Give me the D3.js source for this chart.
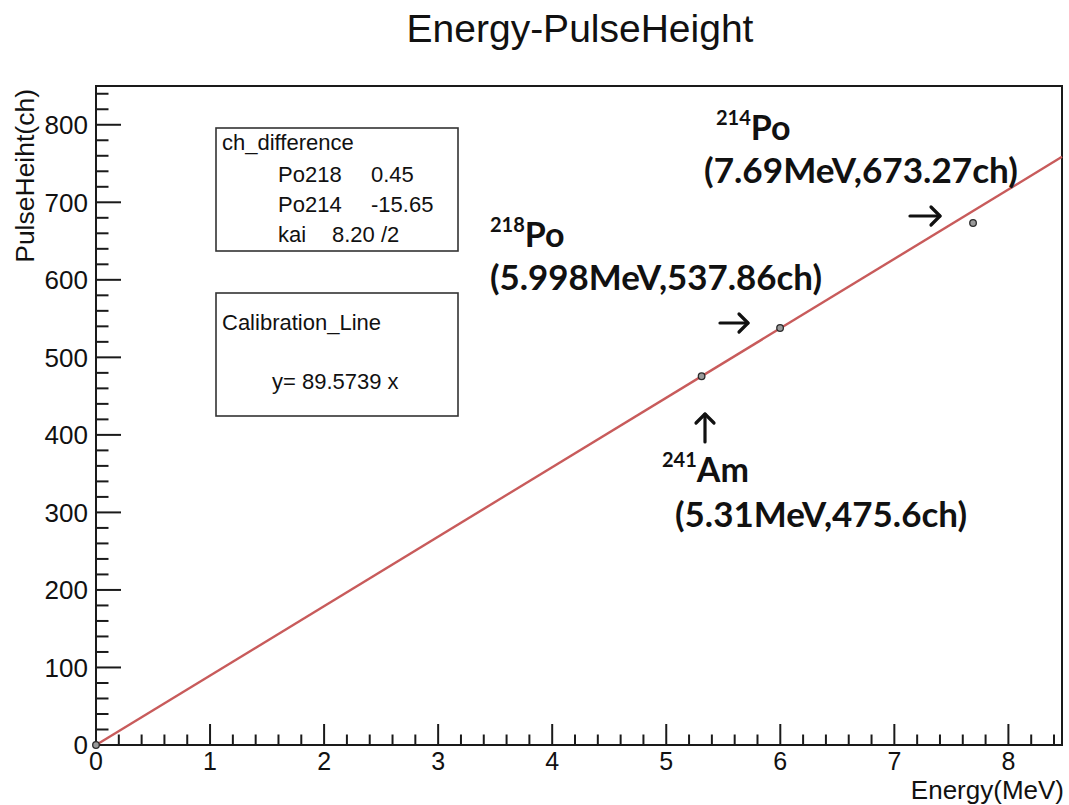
<!DOCTYPE html>
<html>
<head>
<meta charset="utf-8">
<script src="https://cdn.jsdelivr.net/npm/d3@7"></script>
<style>
  html, body { margin: 0; padding: 0; background: #fff; }
  svg { display: block; }
  text { font-family: "Liberation Sans", Arial, sans-serif; fill: #111; }
  .anno { font-family: Lato, "Open Sans", sans-serif; font-weight: 700; }
</style>
</head>
<body>
<svg id="chart" width="1069" height="805"></svg>
<script>
// Measured peak positions: energy (MeV) and pulse height (channel)
const peakNames    = ["origin", "241Am", "218Po", "214Po"];
const peakEnergy   = [0, 5.31, 5.998, 7.69];
const peakChannel  = [0, 475.6, 537.86, 673.27];

// Fitted calibration line y = slope * x
const slope = 89.5739;

// Axis ranges and ticks
const xDomain = [0, 8.47];
const yDomain = [0, 850];
const xMajorTicks = [0, 1, 2, 3, 4, 5, 6, 7, 8];
const yMajorTicks = [0, 100, 200, 300, 400, 500, 600, 700, 800];

// Peak annotations (mass number, element, coordinate text)
const annoMass  = ["241", "218", "214"];
const annoElem  = ["Am", "Po", "Po"];
const annoCoord = ["(5.31MeV,475.6ch)", "(5.998MeV,537.86ch)", "(7.69MeV,673.27ch)"];

// Stat box contents
const diffTitle  = "ch_difference";
const diffNames  = ["Po218", "Po214"];
const diffValues = ["0.45", "-15.65"];
const kaiText    = ["kai", "8.20 /2"];
const fitTitle   = "Calibration_Line";

const svg = d3.select("#chart");
const L = 96, R = 1062, T = 86, B = 745;

const x = d3.scaleLinear().domain(xDomain).range([L, R]);
const y = d3.scaleLinear().domain(yDomain).range([B, T]);

// Title
svg.append("text").attr("x", 580).attr("y", 42)
  .attr("text-anchor", "middle").style("font-size", "39px")
  .text("Energy-PulseHeight");

// Frame
svg.append("rect").attr("x", L).attr("y", T).attr("width", R - L).attr("height", B - T)
  .attr("fill", "none").attr("stroke", "#1a1a1a").attr("stroke-width", 2);

// X axis ticks (inward) and labels
const xMinor = d3.range(0, xDomain[1] + 1e-9, 0.2);
svg.append("g").selectAll("line").data(xMinor).join("line")
  .attr("x1", d => x(d)).attr("x2", d => x(d))
  .attr("y1", B).attr("y2", d => Math.abs(d - Math.round(d)) < 1e-6 ? B - 21 : B - 10.5)
  .attr("stroke", "#1a1a1a").attr("stroke-width", 2);
svg.append("g").selectAll("text").data(xMajorTicks).join("text")
  .attr("x", d => x(d)).attr("y", 770)
  .attr("text-anchor", "middle").style("font-size", "25px")
  .text(d => d);

// Y axis ticks (inward) and labels
const yMinor = d3.range(0, yDomain[1] + 1e-9, 20);
svg.append("g").selectAll("line").data(yMinor).join("line")
  .attr("y1", d => y(d)).attr("y2", d => y(d))
  .attr("x1", L).attr("x2", d => d % 100 === 0 ? L + 25 : L + 12.5)
  .attr("stroke", "#1a1a1a").attr("stroke-width", 2);
svg.append("g").selectAll("text").data(yMajorTicks).join("text")
  .attr("x", 88).attr("y", d => y(d)).attr("dy", "0.36em")
  .attr("text-anchor", "end").style("font-size", "26px")
  .text(d => d);

// Axis titles
svg.append("text").attr("x", 1064).attr("y", 799)
  .attr("text-anchor", "end").style("font-size", "26px")
  .text("Energy(MeV)");
svg.append("text").attr("transform", "translate(34,89) rotate(-90)")
  .attr("text-anchor", "end").style("font-size", "26.5px")
  .text("PulseHeiht(ch)");

// Calibration line
const line = d3.line().x(d => x(d)).y(d => y(slope * d));
svg.append("path").datum([xDomain[0], xDomain[1]])
  .attr("d", line).attr("fill", "none")
  .attr("stroke", "#c85b5b").attr("stroke-width", 2.4);

// Measured points
svg.append("g").selectAll("circle").data(peakEnergy).join("circle")
  .attr("cx", d => x(d)).attr("cy", (d, i) => y(peakChannel[i]))
  .attr("r", 3.3).attr("fill", "#9a9a9a").attr("stroke", "#2a2a2a").attr("stroke-width", 1.3);

// Stat boxes
const fs = "22px";
const box1 = svg.append("g");
box1.append("rect").attr("x", 216).attr("y", 128).attr("width", 242).attr("height", 123)
  .attr("fill", "#fff").attr("stroke", "#333").attr("stroke-width", 1.6);
box1.append("text").attr("x", 222).attr("y", 150).style("font-size", fs).text(diffTitle);
diffNames.forEach((n, i) => {
  box1.append("text").attr("x", 278).attr("y", 182 + i * 30).style("font-size", fs).text(n);
  box1.append("text").attr("x", 371).attr("y", 182 + i * 30).style("font-size", fs).text(diffValues[i]);
});
box1.append("text").attr("x", 278).attr("y", 242).style("font-size", fs).text(kaiText[0]);
box1.append("text").attr("x", 332).attr("y", 242).style("font-size", fs).text(kaiText[1]);

const box2 = svg.append("g");
box2.append("rect").attr("x", 216).attr("y", 293).attr("width", 242).attr("height", 123)
  .attr("fill", "#fff").attr("stroke", "#333").attr("stroke-width", 1.6);
box2.append("text").attr("x", 222).attr("y", 330).style("font-size", fs).text(fitTitle);
box2.append("text").attr("x", 272).attr("y", 389).style("font-size", fs)
  .text("y= " + slope + " x");

// Peak annotations: label position, coordinate text position/width, arrow geometry
const annoLayout = [
  { lx: 662, ly: 482, cx: 675, cy: 527, cw: 292, arrow: { dir: "up",    ax: 705, ay1: 442, ay2: 414 } },
  { lx: 490, ly: 247, cx: 490, cy: 290, cw: 332, arrow: { dir: "right", ay: 323, ax1: 720, ax2: 748 } },
  { lx: 716, ly: 140, cx: 704, cy: 183, cw: 314, arrow: { dir: "right", ay: 216, ax1: 910, ax2: 940 } }
];

annoLayout.forEach((a, i) => {
  const t = svg.append("text").attr("class", "anno").attr("x", a.lx).attr("y", a.ly)
    .style("font-size", "34px");
  t.append("tspan").style("font-size", "20px").attr("dy", -15).text(annoMass[i]);
  t.append("tspan").attr("dy", 15).text(annoElem[i]);

  svg.append("text").attr("class", "anno").attr("x", a.cx).attr("y", a.cy)
    .style("font-size", "34px")
    .attr("textLength", a.cw).attr("lengthAdjust", "spacingAndGlyphs")
    .text(annoCoord[i]);

  const ar = a.arrow;
  const g = svg.append("g").attr("stroke", "#111").attr("stroke-width", 3.2)
    .attr("fill", "none").attr("stroke-linecap", "round").attr("stroke-linejoin", "round");
  if (ar.dir === "up") {
    g.append("line").attr("x1", ar.ax).attr("x2", ar.ax).attr("y1", ar.ay1).attr("y2", ar.ay2);
    g.append("path").attr("d", `M${ar.ax - 9},${ar.ay2 + 9} L${ar.ax},${ar.ay2} L${ar.ax + 9},${ar.ay2 + 9}`);
  } else {
    g.append("line").attr("x1", ar.ax1).attr("x2", ar.ax2).attr("y1", ar.ay).attr("y2", ar.ay);
    g.append("path").attr("d", `M${ar.ax2 - 9},${ar.ay - 9} L${ar.ax2},${ar.ay} L${ar.ax2 - 9},${ar.ay + 9}`);
  }
});
</script>
</body>
</html>
